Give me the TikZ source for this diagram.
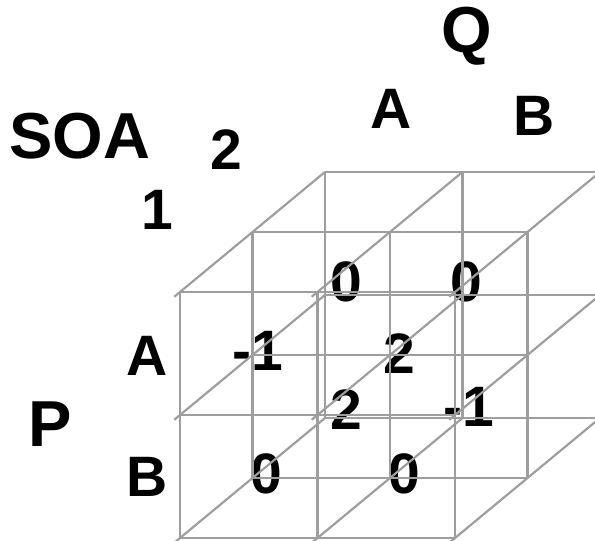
\documentclass[tikz,border=0pt]{standalone}
\usepackage{fontspec}
\setmainfont{Liberation Sans}

\begin{document}
\begin{tikzpicture}[x=1pt, y=1pt]
    \tikzset{
        big/.style={font=\fontsize{65}{70}\selectfont\bfseries, inner sep=0pt},
        lab/.style={font=\fontsize{57}{62}\selectfont\bfseries, inner sep=0pt},
        grid line/.style={draw=black!38, line width=2.2pt},
    }
    \useasboundingbox (0,0) rectangle (595,541);

    % Players and strategies
    \node[big] (SOA) at (80,405) {SOA};
    \node[lab] (SOA-1) at (157,331) {1};
    \node[lab] (SOA-2) at (226,391) {2};
    \node[big] (Q) at (467,505) {Q};
    \node[lab] (Q-A) at (391,432) {A};
    \node[lab] (Q-B) at (534,425) {B};
    \node[big] (P) at (50,117) {P};
    \node[lab] (P-A) at (147,185) {A};
    \node[lab] (P-B) at (147,64) {B};

    % Payoffs, SOA 1 (front)
    \node[lab] (V-AA1) at (258,190) {-1};
    \node[lab] (V-AB1) at (399,187) {2};
    \node[lab] (V-BA1) at (266,67) {0};
    \node[lab] (V-BB1) at (404,67) {0};

    % Payoffs, SOA 2 (back)
    \node[lab] (V-AA2) at (346,259) {0};
    \node[lab] (V-AB2) at (466,259) {0};
    \node[lab] (V-BA2) at (346,131) {2};
    \node[lab] (V-BB2) at (469,134) {-1};

    % Cube, 2x2x2 cells
    \begin{scope}[shift={(180pt,3pt)}, x={(137.5pt,0pt)}, y={(0pt,123pt)}, z={(72.5pt,60pt)}]
        \foreach \b in {0,1,2}
        \foreach \c in {0,1,2}
        \draw[grid line] (0,\b,\c) -- (2,\b,\c);
        \foreach \a in {0,1,2}
        \foreach \c in {0,1,2}
        \draw[grid line] (\a,0,\c) -- (\a,2,\c);
        \foreach \a in {0,1,2}
        \foreach \b in {0,1,2}
        \draw[grid line] (\a,\b,-0.08) -- (\a,\b,2);
    \end{scope}
\end{tikzpicture}
\end{document}
